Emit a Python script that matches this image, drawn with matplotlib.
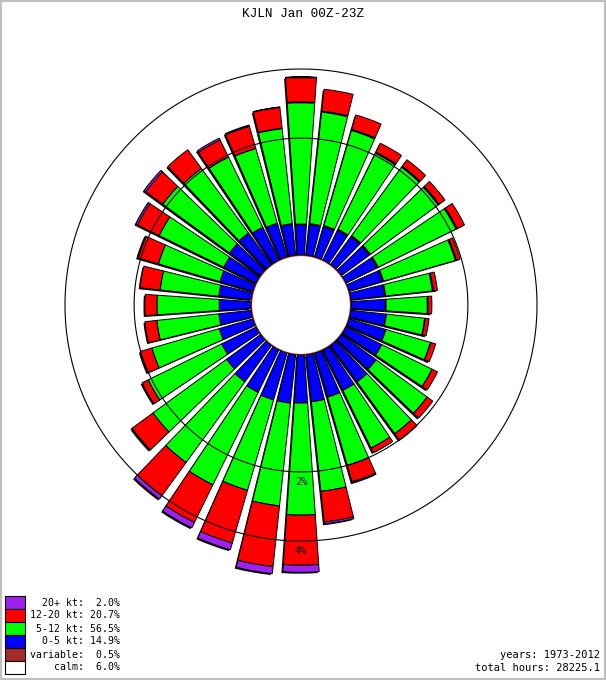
import numpy as np
import matplotlib
matplotlib.use("Agg")
import matplotlib.pyplot as plt
from matplotlib import patheffects
from matplotlib.patches import Rectangle

# percent of hours per 10 degree sector (0 = N, clockwise)
directions = np.arange(0, 360, 10)
blue = [0.29, 0.30, 0.31, 0.33, 0.35, 0.35, 0.35, 0.35, 0.34, 0.34, 0.35, 0.38,
        0.40, 0.44, 0.47, 0.47, 0.48, 0.50, 0.51, 0.52, 0.52, 0.50, 0.47, 0.43,
        0.38, 0.34, 0.31, 0.30, 0.31, 0.33, 0.35, 0.38, 0.39, 0.36, 0.34, 0.30]
green = [2.49, 2.25, 1.91, 1.57, 1.59, 1.57, 1.64, 1.35, 0.75, 0.64, 0.59, 0.75,
         0.95, 1.13, 1.17, 1.17, 1.34, 1.84, 2.48, 2.23, 1.97, 2.20, 2.08, 1.80,
         1.52, 1.21, 1.02, 1.01, 0.95, 1.07, 1.26, 1.54, 1.48, 1.41, 1.39, 1.79]
red = [0.77, 0.65, 0.41, 0.25, 0.20, 0.18, 0.21, 0.09, 0.08, 0.07, 0.07, 0.10,
       0.13, 0.16, 0.19, 0.12, 0.43, 0.90, 1.69, 2.04, 1.74, 1.33, 1.27, 0.73,
       0.17, 0.28, 0.26, 0.26, 0.44, 0.48, 0.59, 0.55, 0.60, 0.48, 0.58, 0.57]
purple = [0.01, 0, 0, 0, 0, 0, 0, 0, 0, 0, 0, 0,
          0, 0, 0, 0, 0.03, 0.06, 0.27, 0.27, 0.25, 0.21, 0.14, 0.01,
          0, 0, 0, 0, 0, 0.02, 0.05, 0.06, 0, 0.05, 0.03, 0.01]
calm = 6.0
variable = 0.5

legend_labels = ["20+ kt", "12-20 kt", "5-12 kt", "0-5 kt", "variable", "calm"]
legend_pct = [2.0, 20.7, 56.5, 14.9, 0.5, 6.0]
legend_colors = ["#a020f0", "#ff0000", "#00ff00", "#0000ff", "#a52a2a", "#ffffff"]
rings = [2, 4]

K = 118.0  # pixels per sqrt(percent)
R = 280
small = 7.5

fig = plt.figure(figsize=(6.06, 6.8), dpi=100)
ax = fig.add_axes([(301 - R) / 606, (680 - 305 - R) / 680, 2 * R / 606, 2 * R / 680],
                  projection="polar")
ax.set_theta_zero_location("N")
ax.set_theta_direction(-1)
ax.set_ylim(0, R)
ax.set_axis_off()

theta = np.radians(directions)
shadow = [patheffects.SimplePatchShadow(offset=(-1, -1), shadow_rgbFace="k", alpha=1),
          patheffects.Normal()]

n = len(directions)
cum = np.full(n, (calm + variable) / n)
for vals, c in zip([blue, green, red, purple], ["#0000ff", "#00ff00", "#ff0000", "#a020f0"]):
    vals = np.array(vals)
    lo = K * np.sqrt(cum)
    hi = K * np.sqrt(cum + vals)
    bars = ax.bar(theta, hi - lo, width=np.radians(7.8), bottom=lo, color=c,
                  edgecolor="k", linewidth=0.7, zorder=2)
    for b, v in zip(bars, vals):
        if v > 0:
            b.set_path_effects(shadow)
        else:
            b.set_visible(False)
    cum = cum + vals

th = np.linspace(0, 2 * np.pi, 500)
ax.fill(th, np.full_like(th, K * np.sqrt((calm + variable) / n)), color="#a52a2a",
        ec="k", lw=0.6, zorder=4)
ax.fill(th, np.full_like(th, K * np.sqrt(calm / n)), color="white", zorder=4)

for p in rings:
    ax.fill(th, np.full_like(th, K * np.sqrt(p)), fill=False, ec="k", lw=0.8, zorder=5)
    ax.text(np.pi, K * np.sqrt(p) + 10, f"{p}%", ha="center", va="center",
            family="DejaVu Sans Mono", fontsize=small, zorder=6)

fig.text(303 / 606, 1 - 14 / 680, "KJLN Jan 00Z-23Z", ha="center", va="center",
         family="Liberation Mono", fontsize=9.2)

for i, (lab, pct, c) in enumerate(zip(legend_labels, legend_pct, legend_colors)):
    y0 = 596 + 13 * i
    fig.add_artist(Rectangle((5 / 606, 1 - (y0 + 13) / 680), 20 / 606, 13 / 680,
                             transform=fig.transFigure, fc=c, ec="k", lw=0.8))
    fig.text(120 / 606, 1 - (y0 + 6.5) / 680, f"{lab}: {pct:4.1f}%", ha="right",
             va="center", family="DejaVu Sans Mono", fontsize=7.1)

fig.text(600 / 606, 1 - 655 / 680, "years: 1973-2012", ha="right", va="center",
         family="DejaVu Sans Mono", fontsize=small)
fig.text(600 / 606, 1 - 668 / 680, "total hours: 28225.1", ha="right", va="center",
         family="DejaVu Sans Mono", fontsize=small)

fig.add_artist(Rectangle((0, 0), 1, 1, transform=fig.transFigure, fill=False,
                         ec="#c0c0c0", lw=3))

fig.savefig("out.png", dpi=100)
